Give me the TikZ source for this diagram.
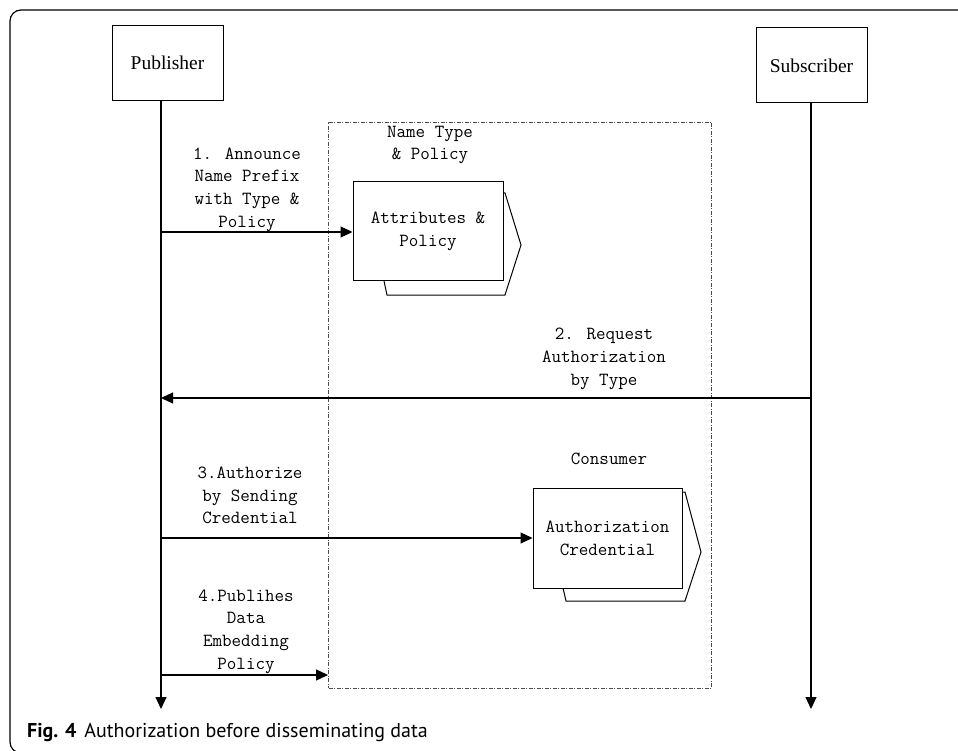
\documentclass[tikz,border=0pt]{standalone}
\usepackage{fontspec}
\setmainfont{Liberation Serif}
\newfontfamily\capsans{PT Sans}
\usetikzlibrary{arrows.meta,calc}

\begin{document}
\begin{tikzpicture}[x=1pt,y=-1pt,
  actor/.style={draw, line width=1pt, minimum width=111pt, minimum height=75pt,
    inner sep=0pt, font=\fontsize{19.5}{22}\selectfont},
  msg/.style={font=\ttfamily\fontsize{18.5}{22.7}\selectfont, align=center, inner sep=0pt},
  card/.style={draw, fill=white, line width=1pt, inner sep=0pt, align=center,
    font=\ttfamily\fontsize{18.5}{23}\selectfont},
  cardback/.style={draw, line width=1pt},
  life/.style={line width=1.1pt, -{Triangle[length=12pt,width=11pt]}},
  sig/.style={line width=1.1pt, -{Triangle[length=12pt,width=11pt]}},
  zonebox/.style={draw=black!70, line width=0.9pt,
    dash pattern=on 4pt off 1.5pt on 1pt off 1.5pt}
]
\useasboundingbox (0,0) rectangle (958,751);
% outer frame
\draw[line width=1.2pt, rounded corners=11pt] (10,10) rectangle (990,753);

% shared zone
\node[zonebox, minimum width=383pt, minimum height=566pt, inner sep=0pt] (zone) at (520,405) {};

% actors
\node[actor] (pub) at (167.5,63) {Publisher};
\node[actor] (sub) at (811.5,65.5) {Subscriber};
\coordinate (pubend) at (161,709);
\coordinate (subend) at (811,709);
\draw[life] (pub.south -| pubend) -- (pubend);
\draw[life] (sub.south -| subend) -- (subend);

% attribute card with its stacked copy behind
\draw[cardback] ($(428,231.5)+(-44,49.5)$) -- ++(3,14) -- ++(118,0) -- ++(16,-50) -- ++(-16,-52) -- ++(-2,0);
\node[card, minimum width=150pt, minimum height=99pt] (attr) at (428,231.5) {Attributes \&\\Policy};
\node[msg] (attrtitle) at (430,145) {Name Type\\\& Policy};

% credential card with its stacked copy behind
\draw[cardback] ($(607.5,538)+(-44.5,50)$) -- ++(3,13) -- ++(119,0) -- ++(16,-49) -- ++(-16,-60) -- ++(-3,0);
\node[card, minimum width=149pt, minimum height=100pt] (cred) at (607.5,538) {Authorization\\Credential};
\node[msg] (credtitle) at (609,459) {Consumer};

% message 1
\coordinate (p1) at (161,232);
\draw[sig] (p1) -- (p1 -| attr.west);
\node[msg] (m1) at (247,189.5) {1. Announce\\Name Prefix\\with Type \&\\Policy};

% message 2
\coordinate (s2) at (811,398);
\coordinate (p2) at (161,398);
\draw[sig] (s2) -- (p2);
\node[msg] (m2) at (604,359) {2. Request\\Authorization\\by Type};

% message 3
\coordinate (p3) at (161,538);
\draw[sig] (p3) -- (p3 -| cred.west);
\node[msg] (m3) at (250,495.5) {3.Authorize\\by Sending\\Credential};

% message 4
\coordinate (p4) at (161,675);
\draw[sig] (p4) -- (p4 -| zone.west);
\node[msg] (m4) at (246,631.5) {4.Publihes\\Data\\Embedding\\Policy};

% caption
\node[anchor=base west, inner sep=0pt, font=\capsans\fontsize{20}{23}\selectfont] (cap) at (27,737)
  {\textbf{Fig. 4}\hspace{8pt}Authorization before disseminating data};
\end{tikzpicture}
\end{document}
